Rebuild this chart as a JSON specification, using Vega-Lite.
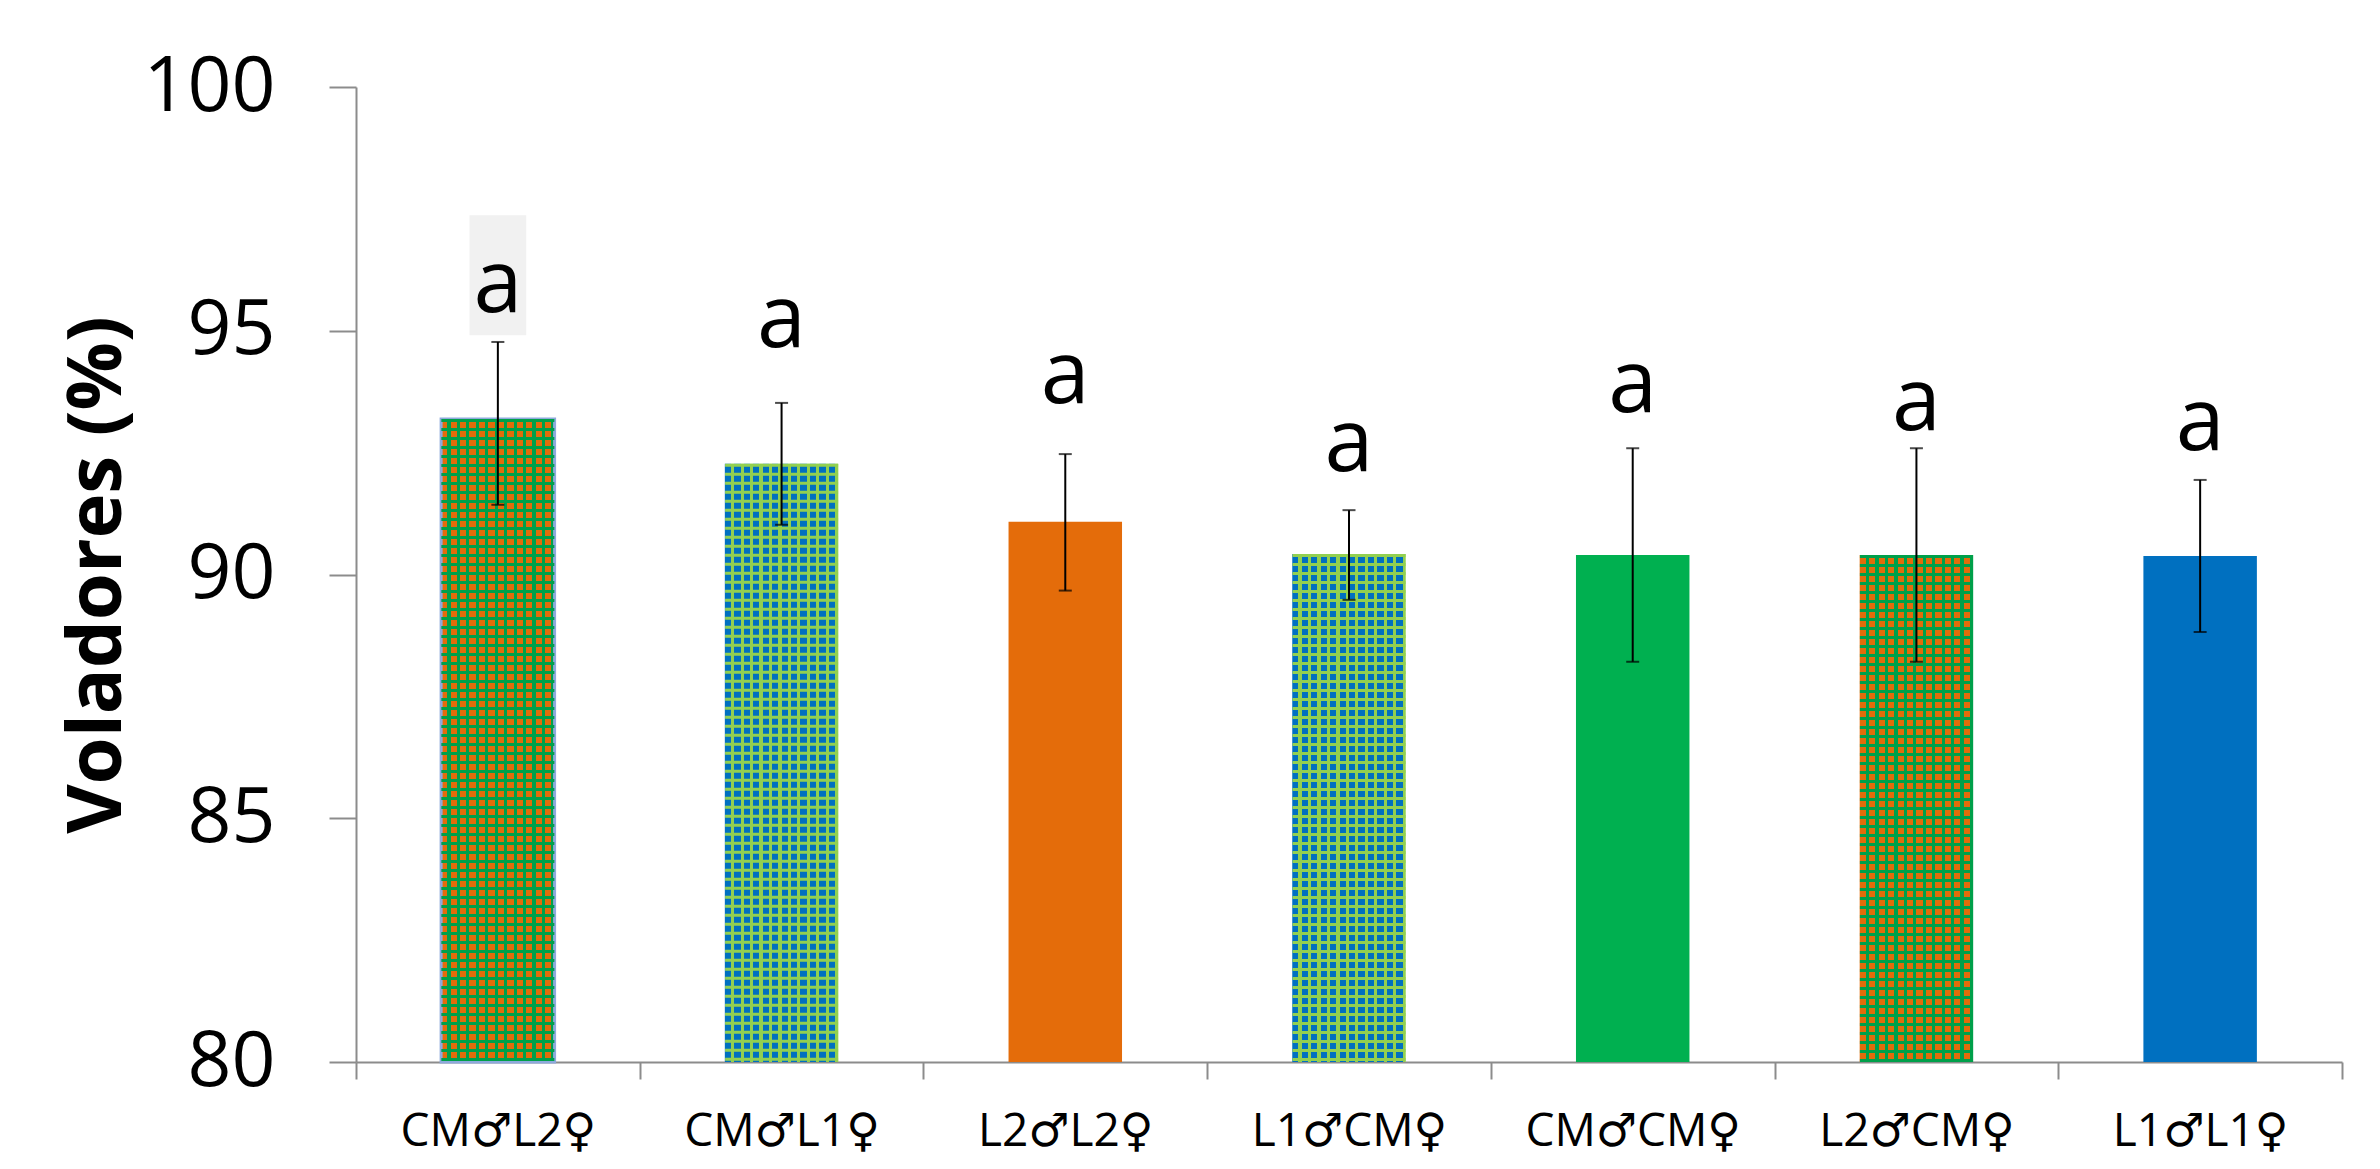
{
  "$schema": "https://vega.github.io/schema/vega-lite/v6.json",
  "autosize": {"type": "none"},
  "width": 1986,
  "height": 975,
  "padding": {"left": 356, "top": 87, "right": 38, "bottom": 107},
  "background": "white",
  "config": {
    "font": "Open Sans, DejaVu Sans",
    "view": {"stroke": null},
    "axis": {"grid": false, "domainColor": "#8c8c8c", "tickColor": "#8c8c8c", "domainWidth": 2, "tickWidth": 2, "labelColor": "#000000", "titleColor": "#000000"}
  },
  "data": {
    "values": [
      {"cross": "CM♂L2♀", "mean": 93.19, "lo": 91.43, "hi": 94.77, "letter": "a", "lpos": 95.38, "boxlo": 94.91, "boxhi": 97.37},
      {"cross": "CM♂L1♀", "mean": 92.27, "lo": 91.02, "hi": 93.52, "letter": "a", "lpos": 94.67},
      {"cross": "L2♂L2♀", "mean": 91.08, "lo": 89.67, "hi": 92.47, "letter": "a", "lpos": 93.52},
      {"cross": "L1♂CM♀", "mean": 90.42, "lo": 89.48, "hi": 91.32, "letter": "a", "lpos": 92.12},
      {"cross": "CM♂CM♀", "mean": 90.40, "lo": 88.21, "hi": 92.59, "letter": "a", "lpos": 93.33},
      {"cross": "L2♂CM♀", "mean": 90.40, "lo": 88.21, "hi": 92.59, "letter": "a", "lpos": 92.96},
      {"cross": "L1♂L1♀", "mean": 90.38, "lo": 88.82, "hi": 91.94, "letter": "a", "lpos": 92.55}
    ]
  },
  "encoding": {
    "x": {
      "field": "cross", "type": "nominal", "sort": null,
      "scale": {"paddingInner": 0, "paddingOuter": 0},
      "axis": {"title": null, "labelAngle": 0, "labelFontSize": 46, "labelPadding": 30, "labelLimit": 0, "tickSize": 17, "tickBand": "extent"}
    }
  },
  "layer": [
    {
      "mark": {"type": "bar", "strokeWidth": 3, "width": {"band": 0.4}},
      "encoding": {
        "y": {"field": "mean", "type": "quantitative", "title": "Voladores (%)",
          "scale": {"domain": [80, 100], "zero": false, "nice": false},
          "axis": {"values": [80, 85, 90, 95, 100], "labelFontSize": 77, "labelPadding": 54, "tickSize": 27, "titleFontSize": 76, "titleFontWeight": "bold", "titlePadding": 20}},
        "y2": {"datum": 80},
        "stroke": {"condition": {"test": "datum.cross === 'CM♂L2♀'", "value": "#8eaadc"}, "value": null},
        "fill": {
          "field": "cross", "type": "nominal", "legend": null,
          "scale": {"domain": ["CM♂L2♀", "CM♂L1♀", "L2♂L2♀", "L1♂CM♀", "CM♂CM♀", "L2♂CM♀", "L1♂L1♀"],
                    "range": ["#E46C0A", "#92D050", "#E46C0A", "#92D050", "#00B050", "#E46C0A", "#0070C0"]},
          "condition": [
            {"test": "datum.cross === 'CM♂L2♀' || datum.cross === 'L2♂CM♀'",
             "value": {"gradient": "linear", "x1": 0, "y1": 0, "x2": 1, "y2": 0, "stops": [
              {"offset": 0, "color": "#E46C0A"}, {"offset": 0.055, "color": "#E46C0A"}, {"offset": 0.055, "color": "#00A04A"}, {"offset": 0.0833, "color": "#00A04A"},
              {"offset": 0.0833, "color": "#E46C0A"}, {"offset": 0.1383, "color": "#E46C0A"}, {"offset": 0.1383, "color": "#00A04A"}, {"offset": 0.1667, "color": "#00A04A"},
              {"offset": 0.1667, "color": "#E46C0A"}, {"offset": 0.2217, "color": "#E46C0A"}, {"offset": 0.2217, "color": "#00A04A"}, {"offset": 0.25, "color": "#00A04A"},
              {"offset": 0.25, "color": "#E46C0A"}, {"offset": 0.305, "color": "#E46C0A"}, {"offset": 0.305, "color": "#00A04A"}, {"offset": 0.3333, "color": "#00A04A"},
              {"offset": 0.3333, "color": "#E46C0A"}, {"offset": 0.3883, "color": "#E46C0A"}, {"offset": 0.3883, "color": "#00A04A"}, {"offset": 0.4167, "color": "#00A04A"},
              {"offset": 0.4167, "color": "#E46C0A"}, {"offset": 0.4717, "color": "#E46C0A"}, {"offset": 0.4717, "color": "#00A04A"}, {"offset": 0.5, "color": "#00A04A"},
              {"offset": 0.5, "color": "#E46C0A"}, {"offset": 0.555, "color": "#E46C0A"}, {"offset": 0.555, "color": "#00A04A"}, {"offset": 0.5833, "color": "#00A04A"},
              {"offset": 0.5833, "color": "#E46C0A"}, {"offset": 0.6383, "color": "#E46C0A"}, {"offset": 0.6383, "color": "#00A04A"}, {"offset": 0.6667, "color": "#00A04A"},
              {"offset": 0.6667, "color": "#E46C0A"}, {"offset": 0.7217, "color": "#E46C0A"}, {"offset": 0.7217, "color": "#00A04A"}, {"offset": 0.75, "color": "#00A04A"},
              {"offset": 0.75, "color": "#E46C0A"}, {"offset": 0.805, "color": "#E46C0A"}, {"offset": 0.805, "color": "#00A04A"}, {"offset": 0.8333, "color": "#00A04A"},
              {"offset": 0.8333, "color": "#E46C0A"}, {"offset": 0.8883, "color": "#E46C0A"}, {"offset": 0.8883, "color": "#00A04A"}, {"offset": 0.9167, "color": "#00A04A"},
              {"offset": 0.9167, "color": "#E46C0A"}, {"offset": 0.9717, "color": "#E46C0A"}, {"offset": 0.9717, "color": "#00A04A"}, {"offset": 1, "color": "#00A04A"}]}},
            {"test": "datum.cross === 'CM♂L1♀' || datum.cross === 'L1♂CM♀'",
             "value": {"gradient": "linear", "x1": 0, "y1": 0, "x2": 1, "y2": 0, "stops": [
              {"offset": 0, "color": "#0070C0"}, {"offset": 0.055, "color": "#0070C0"}, {"offset": 0.055, "color": "#92D050"}, {"offset": 0.0833, "color": "#92D050"},
              {"offset": 0.0833, "color": "#0070C0"}, {"offset": 0.1383, "color": "#0070C0"}, {"offset": 0.1383, "color": "#92D050"}, {"offset": 0.1667, "color": "#92D050"},
              {"offset": 0.1667, "color": "#0070C0"}, {"offset": 0.2217, "color": "#0070C0"}, {"offset": 0.2217, "color": "#92D050"}, {"offset": 0.25, "color": "#92D050"},
              {"offset": 0.25, "color": "#0070C0"}, {"offset": 0.305, "color": "#0070C0"}, {"offset": 0.305, "color": "#92D050"}, {"offset": 0.3333, "color": "#92D050"},
              {"offset": 0.3333, "color": "#0070C0"}, {"offset": 0.3883, "color": "#0070C0"}, {"offset": 0.3883, "color": "#92D050"}, {"offset": 0.4167, "color": "#92D050"},
              {"offset": 0.4167, "color": "#0070C0"}, {"offset": 0.4717, "color": "#0070C0"}, {"offset": 0.4717, "color": "#92D050"}, {"offset": 0.5, "color": "#92D050"},
              {"offset": 0.5, "color": "#0070C0"}, {"offset": 0.555, "color": "#0070C0"}, {"offset": 0.555, "color": "#92D050"}, {"offset": 0.5833, "color": "#92D050"},
              {"offset": 0.5833, "color": "#0070C0"}, {"offset": 0.6383, "color": "#0070C0"}, {"offset": 0.6383, "color": "#92D050"}, {"offset": 0.6667, "color": "#92D050"},
              {"offset": 0.6667, "color": "#0070C0"}, {"offset": 0.7217, "color": "#0070C0"}, {"offset": 0.7217, "color": "#92D050"}, {"offset": 0.75, "color": "#92D050"},
              {"offset": 0.75, "color": "#0070C0"}, {"offset": 0.805, "color": "#0070C0"}, {"offset": 0.805, "color": "#92D050"}, {"offset": 0.8333, "color": "#92D050"},
              {"offset": 0.8333, "color": "#0070C0"}, {"offset": 0.8883, "color": "#0070C0"}, {"offset": 0.8883, "color": "#92D050"}, {"offset": 0.9167, "color": "#92D050"},
              {"offset": 0.9167, "color": "#0070C0"}, {"offset": 0.9717, "color": "#0070C0"}, {"offset": 0.9717, "color": "#92D050"}, {"offset": 1, "color": "#92D050"}]}}
          ]
        }
      }
    },
    {
      "transform": [{"filter": "datum.cross === 'CM♂L2♀' || datum.cross === 'L2♂CM♀' || datum.cross === 'CM♂L1♀' || datum.cross === 'L1♂CM♀'"}],
      "mark": {"type": "rule", "strokeWidth": 113, "strokeDash": [3, 6], "strokeCap": "butt"},
      "encoding": {
        "y": {"field": "mean", "type": "quantitative", "title": "Voladores (%)"},
        "y2": {"datum": 80},
        "stroke": {"condition": {"test": "datum.cross === 'CM♂L2♀' || datum.cross === 'L2♂CM♀'", "value": "#00A04A"}, "value": "#92D050"}
      }
    },
    {
      "transform": [{"filter": "isValid(datum.boxlo)"}],
      "mark": {"type": "bar", "width": {"band": 0.2}, "fill": "#f1f1f1"},
      "encoding": {
        "y": {"field": "boxlo", "type": "quantitative", "title": "Voladores (%)"},
        "y2": {"field": "boxhi"}
      }
    },
    {
      "mark": {"type": "rule", "color": "#000000", "strokeWidth": 2},
      "encoding": {
        "y": {"field": "lo", "type": "quantitative", "title": "Voladores (%)"},
        "y2": {"field": "hi"}
      }
    },
    {
      "mark": {"type": "tick", "color": "#000000", "size": 13, "thickness": 2},
      "encoding": {"y": {"field": "lo", "type": "quantitative", "title": "Voladores (%)"}}
    },
    {
      "mark": {"type": "tick", "color": "#000000", "size": 13, "thickness": 2},
      "encoding": {"y": {"field": "hi", "type": "quantitative", "title": "Voladores (%)"}}
    },
    {
      "mark": {"type": "text", "fontSize": 88, "baseline": "alphabetic", "align": "center", "color": "#000000"},
      "encoding": {
        "y": {"field": "lpos", "type": "quantitative", "title": "Voladores (%)"},
        "text": {"field": "letter"}
      }
    }
  ]
}
